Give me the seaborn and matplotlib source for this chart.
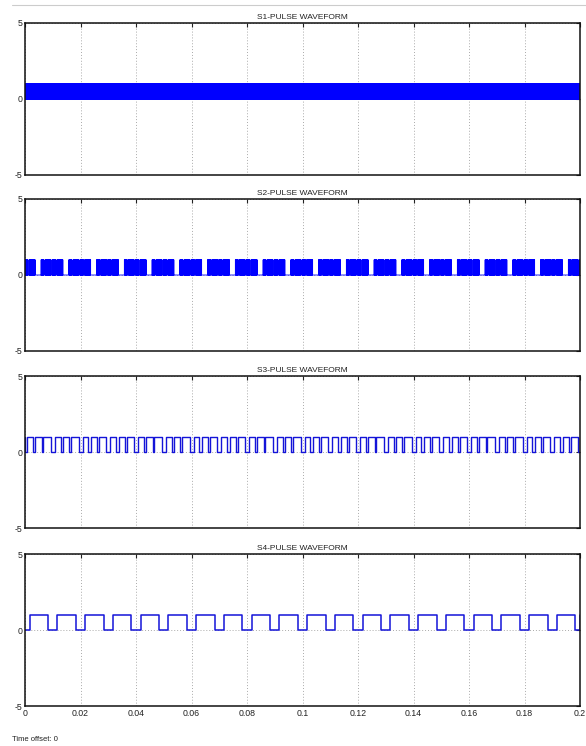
import numpy as np
import pandas as pd
import matplotlib
matplotlib.use("Agg")
import matplotlib.pyplot as plt
import seaborn as sns

# --- values (times in ms) ---
t_end = 200.0
pattern_period = 10.0          # all four gate signals repeat every 10 ms
# S1: very fast switching, looks like a solid band
s1_carrier = 0.1               # switching period, ms
s1_on = 0.05                   # on-time per carrier period, ms
# S2: dense switching bursts, one gap per 10 ms, a few thin notches
s2_carrier = 0.1
s2_gaps = [(3.7, 5.8)]
s2_notches = [(1.1, 1.55), (6.9, 7.35), (9.4, 9.85)]
# S3: three short low intervals per 10 ms
s3_lows = [(-0.7, 0.8), (2.8, 3.7), (6.0, 6.6)]
# S4: one low interval per 10 ms, centred on the period
s4_lows = [(-1.65, 1.65)]

titles = ["S1-PULSE WAVEFORM", "S2-PULSE WAVEFORM",
          "S3-PULSE WAVEFORM", "S4-PULSE WAVEFORM"]
x_ticks = [0, 0.02, 0.04, 0.06, 0.08, 0.1, 0.12, 0.14, 0.16, 0.18, 0.2]
x_tick_labels = ["0", "0.02", "0.04", "0.06", "0.08", "0.1",
                 "0.12", "0.14", "0.16", "0.18", "0.2"]
y_ticks = [-5, 0, 5]


def low_edges(lows):
    # repeat the per-period low intervals over the whole run
    out = []
    for k in range(int(t_end / pattern_period) + 1):
        base = k * pattern_period
        for a, b in lows:
            out.append((base + a, base + b))
    return out


def wave_from_lows(lows):
    t, v = [0.0], [1.0]
    for a, b in sorted(lows):
        a, b = max(a, 0.0), min(b, t_end)
        if b <= 0 or a >= t_end:
            continue
        t += [a, b]
        v += [0.0, 1.0]
    t.append(t_end)
    v.append(v[-1])
    return np.array(t) / 1000.0, np.array(v)


def wave_carrier(carrier, on, gaps):
    gap_list = low_edges(gaps)
    t, v = [], []
    n = int(round(t_end / carrier))
    for i in range(n):
        t0 = i * carrier
        mid = t0 + carrier / 2
        if any(a <= mid < b for a, b in gap_list):
            t.append(t0); v.append(0.0)
            continue
        t += [t0, t0 + on]
        v += [1.0, 0.0]
    t.append(t_end); v.append(v[-1])
    return np.array(t) / 1000.0, np.array(v)


waves = [
    wave_carrier(s1_carrier, s1_on, []),
    wave_carrier(s2_carrier, s2_carrier / 2, s2_gaps + s2_notches),
    wave_from_lows(low_edges(s3_lows)),
    wave_from_lows(low_edges(s4_lows)),
]
# S4 starts low at t=0
t4, v4 = waves[3]
waves[3] = (t4, v4 if v4[0] == 0 else np.concatenate([[0.0], v4[1:]]))

sns.set_style("white")
plt.rcParams["font.family"] = ["Liberation Sans", "DejaVu Sans"]

fig = plt.figure(figsize=(5.86, 7.46), dpi=100)
lefts = 25 / 586
width = 555 / 586
height = 152 / 746
tops = [23, 199, 376, 554]
line_w = [0.8, 0.6, 1.0, 1.1]
line_c = ["#0000ff", "#0000ff", "#1414d8", "#1414d8"]

for i, (t, v) in enumerate(waves):
    ax = fig.add_axes([lefts, 1 - (tops[i] + 152) / 746, width, height])
    df = pd.DataFrame({"t": t, "v": v})
    sns.lineplot(data=df, x="t", y="v", ax=ax, color=line_c[i],
                 drawstyle="steps-post", estimator=None, sort=False,
                 linewidth=line_w[i], antialiased=True)
    ax.set_xlim(0, 0.2)
    ax.set_ylim(-5, 5)
    ax.set_xticks(x_ticks)
    ax.set_yticks(y_ticks)
    ax.set_yticklabels(["-5", "0", "5"])
    if i == 3:
        ax.set_xticklabels(x_tick_labels)
    else:
        ax.set_xticklabels([])
    ax.set_xlabel("")
    ax.set_ylabel("")
    ax.tick_params(direction="in", length=3, width=0.8, labelsize=6.3,
                   top=True, right=True, pad=2, colors="#222222")
    ax.grid(True, linestyle=(0, (1, 2)), color="#aaaaaa", linewidth=0.7)
    for s in ax.spines.values():
        s.set_color("#111111")
        s.set_linewidth(1.1)
    ax.set_title(titles[i], fontsize=6, pad=3, color="#222222")

fig.add_artist(plt.Line2D([12 / 586, 1], [1 - 5 / 746, 1 - 5 / 746],
                          color="#cccccc", linewidth=0.8))
fig.text(12 / 586, 1 - 741 / 746, "Time offset: 0", fontsize=5.5,
         color="#222222", va="baseline")

fig.savefig("out.png", dpi=100)
